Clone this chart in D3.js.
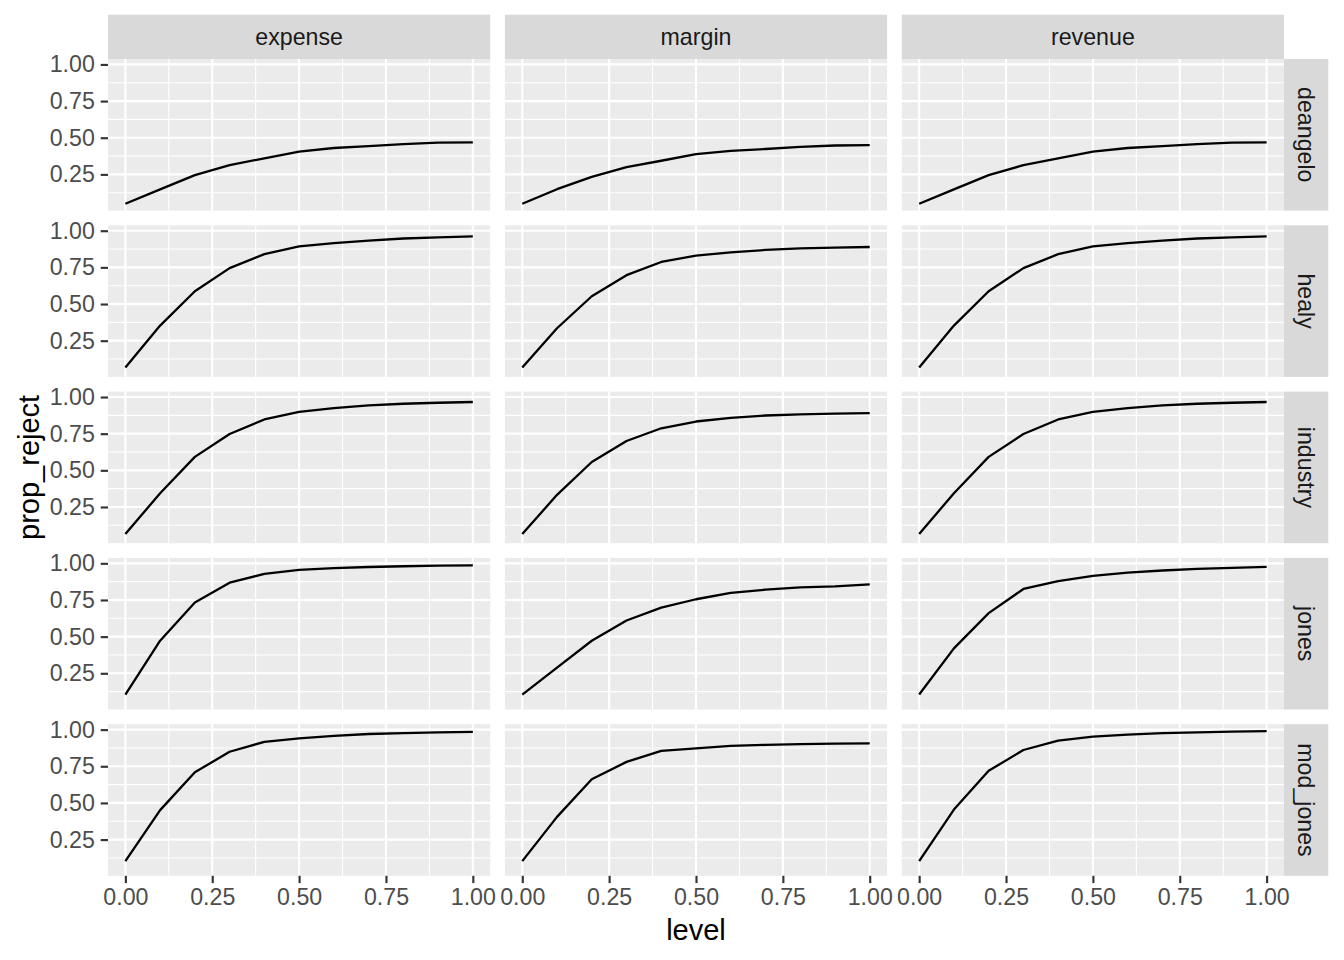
<!DOCTYPE html>
<html>
<head>
<meta charset="utf-8">
<script src="https://cdn.jsdelivr.net/npm/d3@7"></script>
<style>
  html, body { margin: 0; padding: 0; background: #ffffff; }
  svg { display: block; }
</style>
</head>
<body>
<svg id="chart" width="1344" height="960"></svg>
<script>
// ---- data ----
const levels = [0, 0.1, 0.2, 0.3, 0.4, 0.5, 0.6, 0.7, 0.8, 0.9, 1.0];
const measures = ["expense", "margin", "revenue"];
const models = ["deangelo", "healy", "industry", "jones", "mod_jones"];
const xTicks = [0, 0.25, 0.5, 0.75, 1.0];
const xTickLabels = ["0.00", "0.25", "0.50", "0.75", "1.00"];
const yTicks = [0.25, 0.5, 0.75, 1.0];
const yTickLabels = ["0.25", "0.50", "0.75", "1.00"];

const deangelo_expense  = [0.050, 0.148, 0.245, 0.313, 0.360, 0.405, 0.430, 0.443, 0.457, 0.466, 0.469];
const deangelo_margin   = [0.050, 0.149, 0.233, 0.300, 0.343, 0.388, 0.410, 0.423, 0.437, 0.447, 0.450];
const deangelo_revenue  = [0.050, 0.148, 0.245, 0.313, 0.360, 0.405, 0.430, 0.443, 0.457, 0.466, 0.469];
const healy_expense     = [0.067, 0.353, 0.587, 0.745, 0.840, 0.893, 0.915, 0.932, 0.947, 0.955, 0.962];
const healy_margin      = [0.067, 0.335, 0.553, 0.697, 0.787, 0.830, 0.853, 0.869, 0.879, 0.885, 0.889];
const healy_revenue     = [0.067, 0.353, 0.587, 0.745, 0.840, 0.893, 0.915, 0.932, 0.947, 0.955, 0.962];
const industry_expense  = [0.065, 0.344, 0.592, 0.748, 0.847, 0.898, 0.924, 0.943, 0.954, 0.961, 0.966];
const industry_margin   = [0.065, 0.333, 0.557, 0.700, 0.787, 0.833, 0.858, 0.874, 0.881, 0.887, 0.890];
const industry_revenue  = [0.065, 0.344, 0.592, 0.748, 0.847, 0.898, 0.924, 0.943, 0.954, 0.961, 0.966];
const jones_expense     = [0.105, 0.472, 0.733, 0.868, 0.928, 0.955, 0.967, 0.975, 0.980, 0.984, 0.986];
const jones_margin      = [0.105, 0.289, 0.472, 0.610, 0.698, 0.755, 0.799, 0.820, 0.836, 0.843, 0.857];
const jones_revenue     = [0.105, 0.420, 0.660, 0.825, 0.878, 0.914, 0.937, 0.951, 0.962, 0.969, 0.976];
const mod_jones_expense = [0.103, 0.451, 0.709, 0.849, 0.917, 0.940, 0.958, 0.970, 0.976, 0.981, 0.985];
const mod_jones_margin  = [0.103, 0.405, 0.661, 0.780, 0.855, 0.872, 0.889, 0.896, 0.901, 0.905, 0.906];
const mod_jones_revenue = [0.103, 0.455, 0.719, 0.861, 0.925, 0.952, 0.966, 0.976, 0.981, 0.986, 0.990];

const seriesTable = {
  deangelo:  { expense: deangelo_expense,  margin: deangelo_margin,  revenue: deangelo_revenue },
  healy:     { expense: healy_expense,     margin: healy_margin,     revenue: healy_revenue },
  industry:  { expense: industry_expense,  margin: industry_margin,  revenue: industry_revenue },
  jones:     { expense: jones_expense,     margin: jones_margin,     revenue: jones_revenue },
  mod_jones: { expense: mod_jones_expense, margin: mod_jones_margin, revenue: mod_jones_revenue }
};

// ---- layout ----
const svg = d3.select("#chart");
const FONT = "'Liberation Sans', Arial, Helvetica, sans-serif";
const panelLeft = 108, panelTop = 59;
const panelW = 382.2, panelH = 151.6, gap = 14.7;
const stripSize = 44.3;
const tickFont = "23.2px", titleFont = "29px";
const tickLen = 7.3, tickPad = 5.9;

// y domain as ggplot: data range expanded by 5%
const allVals = models.flatMap(m => measures.flatMap(k => seriesTable[m][k]));
const yMin = d3.min(allVals), yMax = d3.max(allVals);
const ySpan = yMax - yMin;
const x = d3.scaleLinear().domain([-0.05, 1.05]).range([0, panelW]);
const y = d3.scaleLinear().domain([yMin - 0.05 * ySpan, yMax + 0.05 * ySpan]).range([panelH, 0]);

const xMinor = [0.125, 0.375, 0.625, 0.875];
const yMinor = [0.125, 0.375, 0.625, 0.875].filter(v => v > y.domain()[0] && v < y.domain()[1]);

const line = d3.line().x((d, i) => x(levels[i])).y(d => y(d));

models.forEach((model, r) => {
  measures.forEach((meas, c) => {
    const px = panelLeft + c * (panelW + gap);
    const py = panelTop + r * (panelH + gap);
    const g = svg.append("g").attr("transform", `translate(${px},${py})`);
    g.append("rect").attr("width", panelW).attr("height", panelH).attr("fill", "#EBEBEB");
    // minor grid
    g.selectAll(".xmin").data(xMinor).enter().append("line")
      .attr("x1", d => x(d)).attr("x2", d => x(d)).attr("y1", 0).attr("y2", panelH)
      .attr("stroke", "#ffffff").attr("stroke-width", 1.07);
    g.selectAll(".ymin").data(yMinor).enter().append("line")
      .attr("y1", d => y(d)).attr("y2", d => y(d)).attr("x1", 0).attr("x2", panelW)
      .attr("stroke", "#ffffff").attr("stroke-width", 1.07);
    // major grid
    g.selectAll(".xmaj").data(xTicks).enter().append("line")
      .attr("x1", d => x(d)).attr("x2", d => x(d)).attr("y1", 0).attr("y2", panelH)
      .attr("stroke", "#ffffff").attr("stroke-width", 2.13);
    g.selectAll(".ymaj").data(yTicks).enter().append("line")
      .attr("y1", d => y(d)).attr("y2", d => y(d)).attr("x1", 0).attr("x2", panelW)
      .attr("stroke", "#ffffff").attr("stroke-width", 2.13);
    // data line
    g.append("path").datum(seriesTable[model][meas]).attr("d", line)
      .attr("fill", "none").attr("stroke", "#000000").attr("stroke-width", 2.3)
      .attr("stroke-linejoin", "round").attr("stroke-linecap", "butt");

    // y axis on the first column
    if (c === 0) {
      const ya = svg.append("g").attr("transform", `translate(${px},${py})`)
        .call(d3.axisLeft(y).tickValues(yTicks).tickFormat((d, i) => yTickLabels[i]).tickSize(tickLen).tickPadding(tickPad));
      ya.select(".domain").remove();
      ya.selectAll(".tick line").attr("stroke", "#333333").attr("stroke-width", 2.13);
      ya.selectAll(".tick text").attr("fill", "#4D4D4D").style("font-family", FONT).style("font-size", tickFont);
    }
    // x axis on the bottom row
    if (r === models.length - 1) {
      const xa = svg.append("g").attr("transform", `translate(${px},${py + panelH})`)
        .call(d3.axisBottom(x).tickValues(xTicks).tickFormat((d, i) => xTickLabels[i]).tickSize(tickLen).tickPadding(tickPad));
      xa.select(".domain").remove();
      xa.selectAll(".tick line").attr("stroke", "#333333").attr("stroke-width", 2.13);
      xa.selectAll(".tick text").attr("fill", "#4D4D4D").style("font-family", FONT).style("font-size", tickFont);
    }
  });
});

// top strips
measures.forEach((meas, c) => {
  const px = panelLeft + c * (panelW + gap);
  svg.append("rect").attr("x", px).attr("y", panelTop - stripSize).attr("width", panelW).attr("height", stripSize)
    .attr("fill", "#D9D9D9");
  svg.append("text").attr("x", px + panelW / 2).attr("y", panelTop - stripSize / 2)
    .attr("text-anchor", "middle").attr("dominant-baseline", "central")
    .attr("fill", "#1A1A1A").style("font-family", FONT).style("font-size", tickFont).text(meas);
});

// right strips
const stripX = panelLeft + 3 * panelW + 2 * gap;
models.forEach((model, r) => {
  const py = panelTop + r * (panelH + gap);
  svg.append("rect").attr("x", stripX).attr("y", py).attr("width", stripSize).attr("height", panelH)
    .attr("fill", "#D9D9D9");
  svg.append("text")
    .attr("transform", `translate(${stripX + stripSize / 2},${py + panelH / 2}) rotate(90)`)
    .attr("text-anchor", "middle").attr("dominant-baseline", "central")
    .attr("fill", "#1A1A1A").style("font-family", FONT).style("font-size", tickFont).text(model);
});

// axis titles
const plotBottom = panelTop + 5 * panelH + 4 * gap;
svg.append("text").attr("x", panelLeft + (3 * panelW + 2 * gap) / 2).attr("y", 940)
  .attr("text-anchor", "middle").attr("fill", "#000000")
  .style("font-family", FONT).style("font-size", titleFont).text("level");
svg.append("text")
  .attr("transform", `translate(39,${(panelTop + plotBottom) / 2}) rotate(-90)`)
  .attr("text-anchor", "middle").attr("fill", "#000000")
  .style("font-family", FONT).style("font-size", titleFont).text("prop_reject");
</script>
</body>
</html>
